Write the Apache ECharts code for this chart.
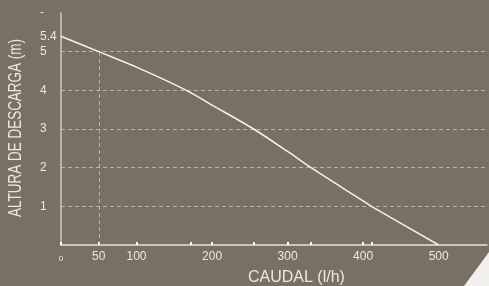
<!DOCTYPE html>
<html>
<head>
<meta charset="utf-8">
<script src="https://cdn.jsdelivr.net/npm/echarts@6/dist/echarts.min.js"></script>
<style>
html,body{margin:0;padding:0;background:#787064;}
#chart{width:489px;height:286px;}
</style>
</head>
<body>
<div id="chart"></div>
<script>
// Data
const caudal = [0, 50, 100, 166, 200, 255, 300, 331, 400, 411, 500];
const altura = [5.4, 5.0, 4.6, 4.0, 3.62, 3.0, 2.42, 2.0, 1.14, 1.0, 0];
const xLabelValues = [0, 50, 100, 200, 300, 400, 500];
const xTickValues = [0, 50, 100, 172, 200, 255, 300, 330, 400, 411];
const yLabelValues = [1, 2, 3, 4, 5, 5.4, 6];
const refPoint = [50, 5];
const xTitle = 'CAUDAL (l/h)';
const yTitle = 'ALTURA DE DESCARGA (m)';

const chart = echarts.init(document.getElementById('chart'));
const gridCol = 'rgba(205,200,190,0.75)';
const font = 'Liberation Sans, Arial, sans-serif';
chart.setOption({
  backgroundColor: '#787064',
  animation: false,
  grid: {left: 61, right: 2, top: 13, bottom: 41, containLabel: false},
  xAxis: {
    type: 'value', min: 0, max: 564,
    axisLine: {lineStyle: {color: '#e6e2da', width: 1.5}},
    axisTick: {show: true, inside: true, length: 3, customValues: xTickValues, lineStyle: {color: '#ffffff', width: 2}},
    axisLabel: {
      customValues: xLabelValues, margin: 6, color: '#ece8e0', fontSize: 12, fontFamily: font,
      formatter: v => v === 0 ? '{s|0}' : String(v),
      rich: {s: {fontSize: 8, color: '#ece8e0', fontFamily: font, padding: [4, 0, 0, 0]}}
    },
    splitLine: {show: false}
  },
  yAxis: {
    type: 'value', min: 0, max: 6, interval: 1,
    axisLine: {show: true, lineStyle: {color: '#cfcac2', width: 1.5}},
    axisTick: {show: false},
    axisLabel: {
      customValues: yLabelValues, margin: 21, align: 'left', color: '#ece8e0', fontSize: 12, fontFamily: font,
      formatter: v => v === 6 ? '-' : String(v)
    },
    splitLine: {show: true, showMaxLine: false, showMinLine: false, lineStyle: {color: gridCol, type: [4, 3], width: 1}}
  },
  graphic: [
    {type: 'text', left: 248, top: 270, style: {text: xTitle, fill: '#ece8e0', fontSize: 16, fontFamily: font}},
    {type: 'text', x: 16, y: 128, rotation: Math.PI / 2, scaleX: 0.71, scaleY: 1,
     style: {text: yTitle, fill: '#ece8e0', fontSize: 19, fontFamily: font, align: 'center', verticalAlign: 'middle'}},
    {type: 'polygon', shape: {points: [[489, 252], [489, 286], [464, 286]]}, style: {fill: '#f2f0ec'}}
  ],
  series: [{
    type: 'line',
    data: caudal.map((x, i) => [x, altura[i]]),
    showSymbol: false,
    smooth: 0.3,
    lineStyle: {color: '#f4f2ee', width: 1.5},
    markLine: {
      silent: true, symbol: 'none', label: {show: false},
      lineStyle: {color: gridCol, type: [4, 3], width: 1},
      data: [[{coord: [refPoint[0], 0]}, {coord: [refPoint[0], refPoint[1]]}]]
    }
  }]
});
</script>
</body>
</html>
